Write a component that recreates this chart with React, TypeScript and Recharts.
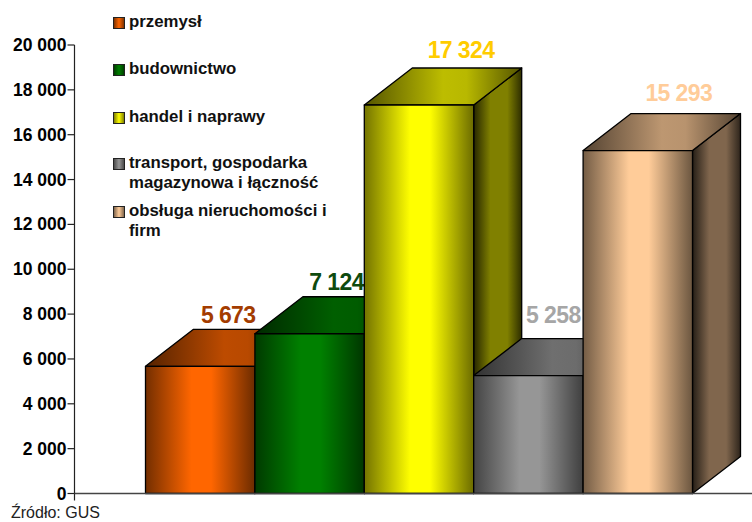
import { BarChart, Bar, XAxis, YAxis, Legend } from 'recharts';

const FONT = '"Liberation Sans", Arial, sans-serif';

const sectors = ['przemysł', 'budownictwo', 'handel i naprawy', 'transport, gospodarka magazynowa i łączność', 'obsługa nieruchomości i firm'];
const values = [5673, 7124, 17324, 5258, 15293];
const baseColors = ['#ff6600', '#008000', '#ffff00', '#969696', '#ffcc99'];
const labelColors = ['#a33c00', '#0e4a0e', '#ffcc00', '#a6a6a6', '#ffcc99'];
const yTicks = [0, 2000, 4000, 6000, 8000, 10000, 12000, 14000, 16000, 18000, 20000];

// value labels were placed by hand in the original, so they are not evenly offset
const labelShiftX = [0, -1, 14, -3, 13];
const labelShiftY = [4, 3, 0, -6, -3];

// the chart has one category, each sector is its own series
const row: Record<string, number | string> = { name: 'sektory' };
sectors.forEach((s, i) => {
  row[s] = values[i];
});
const data = [row];

const DEPTH_X = 48;
const DEPTH_Y = 37;

const shade = (hex: string, k: number) => {
  const n = parseInt(hex.slice(1), 16);
  const c = [(n >> 16) & 255, (n >> 8) & 255, n & 255].map((v) => Math.round(v * k));
  return `rgb(${c[0]},${c[1]},${c[2]})`;
};

const formatNumber = (v: number) => String(v).replace(/\B(?=(\d{3})+$)/g, ' ');

function Gradients() {
  return (
    <defs>
      {baseColors.map((c, i) => (
        <g key={i}>
          <linearGradient id={`front-${i}`} x1="0" y1="0" x2="1" y2="0">
            <stop offset="0" stopColor={shade(c, 0.45)} />
            <stop offset="0.42" stopColor={c} />
            <stop offset="0.6" stopColor={c} />
            <stop offset="1" stopColor={shade(c, 0.42)} />
          </linearGradient>
          <linearGradient id={`top-${i}`} x1="0" y1="0" x2="1" y2="0">
            <stop offset="0" stopColor={shade(c, 0.33)} />
            <stop offset="0.5" stopColor={shade(c, 0.74)} />
            <stop offset="0.65" stopColor={shade(c, 0.72)} />
            <stop offset="1" stopColor={shade(c, 0.33)} />
          </linearGradient>
          <linearGradient id={`side-${i}`} x1="0" y1="0" x2="1" y2="0">
            <stop offset="0" stopColor={shade(c, 0.15)} />
            <stop offset="0.35" stopColor={shade(c, 0.5)} />
            <stop offset="0.7" stopColor={shade(c, 0.5)} />
            <stop offset="1" stopColor={shade(c, 0.18)} />
          </linearGradient>
        </g>
      ))}
    </defs>
  );
}

function Block(props: any) {
  const { x, y, width, height, index } = props;
  const r = x + width;
  const b = y + height;
  const line = { stroke: '#000', strokeWidth: 1.3, strokeLinejoin: 'round' as const };
  return (
    <g>
      <polygon
        points={`${r},${y} ${r + DEPTH_X},${y - DEPTH_Y} ${r + DEPTH_X},${b - DEPTH_Y} ${r},${b}`}
        fill={`url(#side-${index})`}
        {...line}
      />
      <polygon
        points={`${x},${y} ${x + DEPTH_X},${y - DEPTH_Y} ${r + DEPTH_X},${y - DEPTH_Y} ${r},${y}`}
        fill={`url(#top-${index})`}
        {...line}
      />
      <rect x={x} y={y} width={width} height={height} fill={`url(#front-${index})`} {...line} />
      <text
        x={x + width / 2 + DEPTH_X / 2 + 4 + labelShiftX[index]}
        y={y - DEPTH_Y - 10 + labelShiftY[index]}
        textAnchor="middle"
        fontFamily={FONT}
        fontWeight="bold"
        fontSize={23}
        letterSpacing={-0.6}
        fill={labelColors[index]}
      >
        {formatNumber(values[index])}
      </text>
    </g>
  );
}

function YTick(props: any) {
  const { x, y, payload } = props;
  return (
    <g>
      <line x1={x - 7} x2={x} y1={y} y2={y} stroke="#222" strokeWidth={1.2} />
      {payload.value === 0 && <line x1={x} x2={x} y1={y} y2={y + 7} stroke="#222" strokeWidth={1.2} />}
      <text x={x - 8} y={y + 6} textAnchor="end" fontFamily={FONT} fontWeight="bold" fontSize={17.5} fill="#000">
        {formatNumber(payload.value)}
      </text>
    </g>
  );
}

const legendTops = [12, 59, 107, 153, 201];

// zero size box, so the legend takes no room away from the plot
function LegendBox({ payload }: any) {
  return (
    <div style={{ position: 'relative', width: 0, height: 0, fontFamily: FONT, fontWeight: 'bold', fontSize: 16.8, lineHeight: '20px', color: '#111' }}>
      {(payload || []).map((p: any, i: number) => (
        <div key={p.value} style={{ position: 'absolute', left: 113, top: legendTops[i], display: 'flex', width: 225 }}>
          <span
            style={{
              flex: 'none',
              width: 10,
              height: 10,
              marginTop: 5,
              border: '1px solid #222',
              background: `linear-gradient(90deg, ${shade(baseColors[i], 0.5)}, ${baseColors[i]} 50%, ${shade(baseColors[i], 0.5)})`,
            }}
          />
          <span style={{ width: 205, marginLeft: 4, whiteSpace: 'normal' }}>{p.value}</span>
        </div>
      ))}
    </div>
  );
}

export default function App() {
  return (
    <div style={{ position: 'absolute', left: 0, top: 0, width: 752, height: 522, background: '#fff' }}>
      <BarChart
        width={752}
        height={522}
        data={data}
        margin={{ top: 45, right: 0, bottom: 27.5, left: 0 }}
        barSize={109.4}
        barGap={0}
      >
        <Gradients />
        <XAxis
          dataKey="name"
          height={1}
          tick={false}
          tickLine={false}
          padding={{ left: 11, right: 0 }}
          axisLine={{ stroke: '#444', strokeWidth: 1.4 }}
        />
        <YAxis
          width={74.5}
          domain={[0, 20000]}
          ticks={yTicks}
          interval={0}
          tickLine={false}
          tickSize={0}
          tickMargin={0}
          tick={<YTick />}
          axisLine={{ stroke: '#222', strokeWidth: 1.2 }}
        />
        <Legend
          layout="vertical"
          align="left"
          verticalAlign="top"
          itemSorter={null}
          wrapperStyle={{ left: 0, top: 0 }}
          content={<LegendBox />}
        />
        {sectors.map((s, i) => (
          <Bar
            key={s}
            dataKey={s}
            name={s}
            fill={baseColors[i]}
            isAnimationActive={false}
            shape={(p: any) => <Block {...p} index={i} />}
          />
        ))}
      </BarChart>
      <div style={{ position: 'absolute', left: 11, top: 505, fontFamily: FONT, fontSize: 16, lineHeight: '16px', color: '#222' }}>
        Źródło: GUS
      </div>
    </div>
  );
}
